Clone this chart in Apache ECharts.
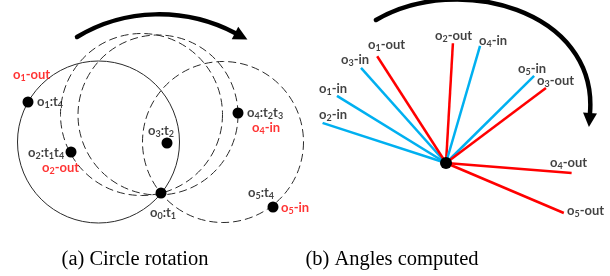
<!DOCTYPE html>
<html>
<head>
<meta charset="utf-8">
<script src="https://cdn.jsdelivr.net/npm/echarts@6/dist/echarts.min.js"></script>
<style>
  html, body { margin: 0; padding: 0; background: #fff; }
  #chart { width: 610px; height: 276px; }
</style>
</head>
<body>
<div id="chart"></div>
<script>
// (a) circle rotation: circles as [cx, cy, r, dashed]
const circles = [
  [98.5, 142, 81, 0],
  [141.5, 114.5, 81, 1],
  [158, 115, 80, 1],
  [223, 142, 80.5, 1]
];
// objects on the circles
const pointX = [161, 28, 71, 167, 238, 273];
const pointY = [193, 102, 152, 143, 113, 207];

// labels of panel (a): text, x (left), y (middle), red?
const leftLabels = ['o1-out', 'o1:t4', 'o2:t1t4', 'o2-out', 'o3:t2', 'o4:t2t3', 'o4-in', 'o0:t1', 'o5:t4', 'o5-in'];
const leftLabelX = [13, 37, 28, 42, 148, 247, 252, 150, 248, 281];
const leftLabelY = [75, 102, 153, 168, 131, 113, 128, 213, 193, 208];
const leftLabelRed = [1, 0, 0, 1, 0, 0, 1, 0, 0, 1];

// (b) angles computed: one ray per label, angle in degrees, length
const rayNames = ['o2-in', 'o1-in', 'o3-in', 'o1-out', 'o2-out', 'o4-in', 'o5-in', 'o3-out', 'o4-out', 'o5-out'];
const rayAngles = [162, 148.4, 131.8, 122.8, 86.7, 73.8, 44.7, 36.9, -4.5, -23];
const rayLengths = [130, 128, 127.5, 127, 120, 122, 124, 125, 126, 128];
const rightLabelX = [319, 319, 341, 368, 435, 479, 518, 537, 550, 567];
const rightLabelY = [115, 89, 60, 45, 36, 41, 69, 81, 163, 211];

// rotation arrows: start, control 1, control 2, end
const arrows = [
  [77, 37, 125, 8, 185, 7, 235, 33],
  [376, 20, 458, -28, 598, 10, 590, 113]
];

const captions = ['(a) Circle rotation', '(b) Angles computed'];
const captionX = [135, 392];

const RED = '#ff0000';
const BLUE = '#00b0f0';

function richText(s) {
  return s.replace(/(\d+)|([^\d]+)/g, (m, d, t) => d ? '{s|' + d + '}' : '{n|' + t + '}');
}
function rich(color) {
  return {
    n: { fontFamily: 'Lato', fontWeight: 'bold', fontSize: 13, lineHeight: 16, color: color },
    s: { fontFamily: 'Lato', fontWeight: 'bold', fontSize: 9, lineHeight: 10, color: color, verticalAlign: 'bottom' }
  };
}

let chart = echarts.init(document.getElementById('chart'));

const labelSeries = (names, xs, ys, reds) => ({
  type: 'scatter',
  symbolSize: 0,
  silent: true,
  z: 5,
  data: names.map((n, i) => ({
    value: [xs[i], ys[i]],
    label: {
      show: true,
      position: 'right',
      distance: 0,
      formatter: richText(n),
      rich: rich(reds && reds[i] ? RED : '#111')
    }
  }))
});

const series = [
  {
    type: 'custom',
    clip: false,
    silent: true,
    data: circles,
    encode: { x: 0, y: 1 },
    renderItem(params, api) {
      const c = api.coord([api.value(0), api.value(1)]);
      const r = api.size([api.value(2), 0])[0];
      return {
        type: 'circle',
        shape: { cx: c[0], cy: c[1], r: r },
        style: { fill: 'none', stroke: '#2a2a2a', lineWidth: 1, lineDash: api.value(3) ? [8, 4] : null }
      };
    }
  },
  {
    type: 'custom',
    clip: false,
    silent: true,
    data: arrows,
    encode: { x: [0, 2, 4, 6], y: [1, 3, 5, 7] },
    renderItem(params, api) {
      const p = [0, 2, 4, 6].map(k => api.coord([api.value(k), api.value(k + 1)]));
      let dx = p[3][0] - p[2][0], dy = p[3][1] - p[2][1];
      const len = Math.sqrt(dx * dx + dy * dy);
      dx /= len; dy /= len;
      const tip = [p[3][0] + dx * 14, p[3][1] + dy * 14];
      const b1 = [p[3][0] - dy * 7, p[3][1] + dx * 7];
      const b2 = [p[3][0] + dy * 7, p[3][1] - dx * 7];
      return {
        type: 'group',
        children: [
          {
            type: 'bezierCurve',
            shape: { x1: p[0][0], y1: p[0][1], cpx1: p[1][0], cpy1: p[1][1], cpx2: p[2][0], cpy2: p[2][1], x2: p[3][0], y2: p[3][1] },
            style: { fill: 'none', stroke: '#000', lineWidth: 4.5, lineCap: 'round' }
          },
          {
            type: 'polygon',
            shape: { points: [tip, b1, b2] },
            style: { fill: '#000' }
          }
        ]
      };
    }
  },
  {
    type: 'scatter',
    symbolSize: 11,
    silent: true,
    itemStyle: { color: '#000', opacity: 1 },
    z: 4,
    data: pointX.map((x, i) => [x, pointY[i]])
  },
  labelSeries(leftLabels, leftLabelX, leftLabelY, leftLabelRed),
  labelSeries(rayNames, rightLabelX, rightLabelY, null)
];

rayNames.forEach((name, i) => {
  series.push({
    type: 'line',
    coordinateSystem: 'polar',
    symbol: 'none',
    silent: true,
    lineStyle: { color: name.indexOf('out') > 0 ? RED : BLUE, width: 2.5 },
    data: [[0, rayAngles[i]], [rayLengths[i], rayAngles[i]]]
  });
});
series.push({
  type: 'scatter',
  coordinateSystem: 'polar',
  symbolSize: 12,
  silent: true,
  z: 6,
  itemStyle: { color: '#000', opacity: 1 },
  data: [[0, 0]]
});

chart.setOption({
  animation: false,
  grid: { left: 0, right: 0, top: 0, bottom: 0 },
  xAxis: { type: 'value', min: 0, max: 610, show: false },
  yAxis: { type: 'value', min: 0, max: 276, inverse: true, show: false },
  polar: { center: [446, 163], radius: 130 },
  radiusAxis: { type: 'value', min: 0, max: 130, show: false },
  angleAxis: { type: 'value', min: 0, max: 360, startAngle: 0, clockwise: false, show: false },
  graphic: captions.map((t, i) => ({
    type: 'text',
    x: captionX[i],
    y: 260,
    style: { text: t, font: '20.5px "Liberation Serif"', fill: '#000', align: 'center', verticalAlign: 'middle' }
  })),
  series: series
});

window.addEventListener('resize', () => {
  if (chart) chart.resize();
});
</script>
</body>
</html>
